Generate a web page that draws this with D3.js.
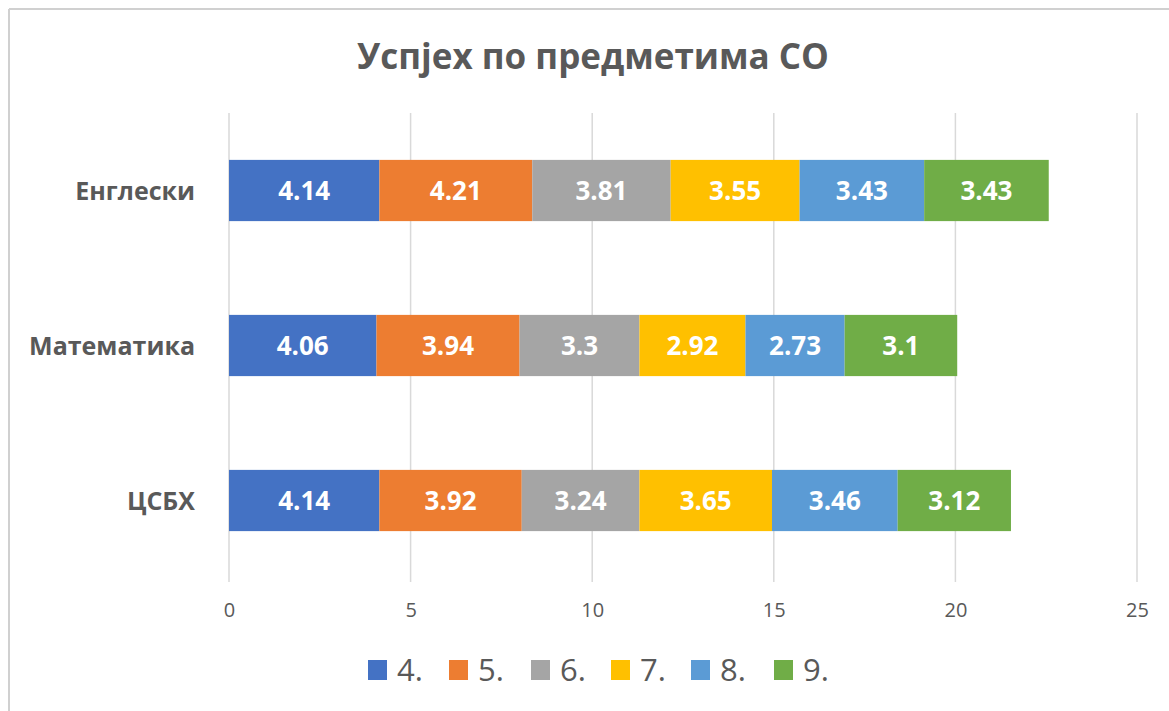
<!DOCTYPE html>
<html><head><meta charset="utf-8">
<script src="https://cdn.jsdelivr.net/npm/d3@7"></script>
<style>body{margin:0;background:#fff;} svg{display:block;}</style>
</head><body>
<svg id="c" width="1169" height="711"></svg>
<script>
const title = "Успјех по предметима СО";
const categories = ["Енглески", "Математика", "ЦСБХ"];
const seriesNames = ["4.", "5.", "6.", "7.", "8.", "9."];
const s4 = [4.14, 4.06, 4.14];
const s5 = [4.21, 3.94, 3.92];
const s6 = [3.81, 3.3, 3.24];
const s7 = [3.55, 2.92, 3.65];
const s8 = [3.43, 2.73, 3.46];
const s9 = [3.43, 3.1, 3.12];
const xTicks = [0, 5, 10, 15, 20, 25];
const colors = ["#4472C4", "#ED7D31", "#A5A5A5", "#FFC000", "#5B9BD5", "#70AD47"];

const seriesVals = [s4, s5, s6, s7, s8, s9];
const rows = categories.map((c, i) => {
  const r = {cat: c};
  seriesNames.forEach((s, j) => r[s] = seriesVals[j][i]);
  return r;
});
const stacked = d3.stack().keys(seriesNames)(rows);

const svg = d3.select("#c");
const font = "'Open Sans', 'Noto Sans', sans-serif";
const textCol = "#595959";

// frame
svg.append("rect").attr("x",0).attr("y",0).attr("width",1169).attr("height",711).attr("fill","#fff");
svg.append("line").attr("x1",9).attr("x2",1169).attr("y1",9).attr("y2",9).attr("stroke","#d0d0d0").attr("stroke-width",2);
svg.append("line").attr("x1",9).attr("x2",9).attr("y1",9).attr("y2",711).attr("stroke","#d0d0d0").attr("stroke-width",2);

const x = d3.scaleLinear().domain([0, 25]).range([229, 1137]);
const y = d3.scaleBand().domain(categories).range([113, 578]).paddingInner(0.605).paddingOuter(0.3025);

// grid
svg.append("g").selectAll("line").data(xTicks).join("line")
  .attr("x1", d => x(d)).attr("x2", d => x(d))
  .attr("y1", 113).attr("y2", 582)
  .attr("stroke", "#d9d9d9").attr("stroke-width", 1.5);

// axis labels
const ax = svg.append("g").attr("transform", "translate(0,610)")
  .call(d3.axisBottom(x).tickValues(xTicks).tickSize(0).tickPadding(0).tickFormat(d3.format("d")));
ax.select(".domain").remove();
ax.selectAll("text").attr("font-family", font).attr("font-size", 20).attr("fill", textCol).attr("dy", "0.35em");

// bars
const g = svg.append("g").selectAll("g").data(stacked).join("g")
  .attr("fill", (d, i) => colors[i]);
g.selectAll("rect").data(d => d.map(v => ({v, key: d.key}))).join("rect")
  .attr("x", d => x(d.v[0]))
  .attr("width", d => x(d.v[1]) - x(d.v[0]))
  .attr("y", d => y(d.v.data.cat))
  .attr("height", y.bandwidth());

// data labels
g.selectAll("text").data(d => d.map(v => ({v, key: d.key}))).join("text")
  .attr("x", d => (x(d.v[0]) + x(d.v[1])) / 2)
  .attr("y", d => y(d.v.data.cat) + y.bandwidth() / 2)
  .attr("dy", "0.36em")
  .attr("text-anchor", "middle")
  .attr("font-family", font).attr("font-weight", "bold").attr("font-size", 26)
  .attr("fill", "#fff")
  .text(d => d.v.data[d.key]);

// category labels
svg.append("g").selectAll("text").data(categories).join("text")
  .attr("x", 195)
  .attr("y", d => y(d) + y.bandwidth() / 2)
  .attr("dy", "0.36em")
  .attr("text-anchor", "end")
  .attr("font-family", font).attr("font-weight", "bold").attr("font-size", 25)
  .attr("fill", textCol)
  .text(d => d);

// title
svg.append("text").attr("x", 593).attr("y", 56).attr("dy", "0.36em")
  .attr("text-anchor", "middle")
  .attr("font-family", font).attr("font-weight", "bold").attr("font-size", 35)
  .attr("fill", textCol).text(title);

// legend
const legX = d3.scaleOrdinal().domain(seriesNames).range([368, 449, 531, 611, 691, 774]);
const leg = svg.append("g").selectAll("g").data(seriesNames).join("g")
  .attr("transform", d => `translate(${legX(d)},0)`);
leg.append("rect").attr("x", 0).attr("y", 660).attr("width", 19).attr("height", 20)
  .attr("fill", (d, i) => colors[i]);
leg.append("text").attr("x", 29).attr("y", 670).attr("dy", "0.36em")
  .attr("font-family", font).attr("font-size", 31).attr("fill", textCol).text(d => d);
</script>
</body></html>
